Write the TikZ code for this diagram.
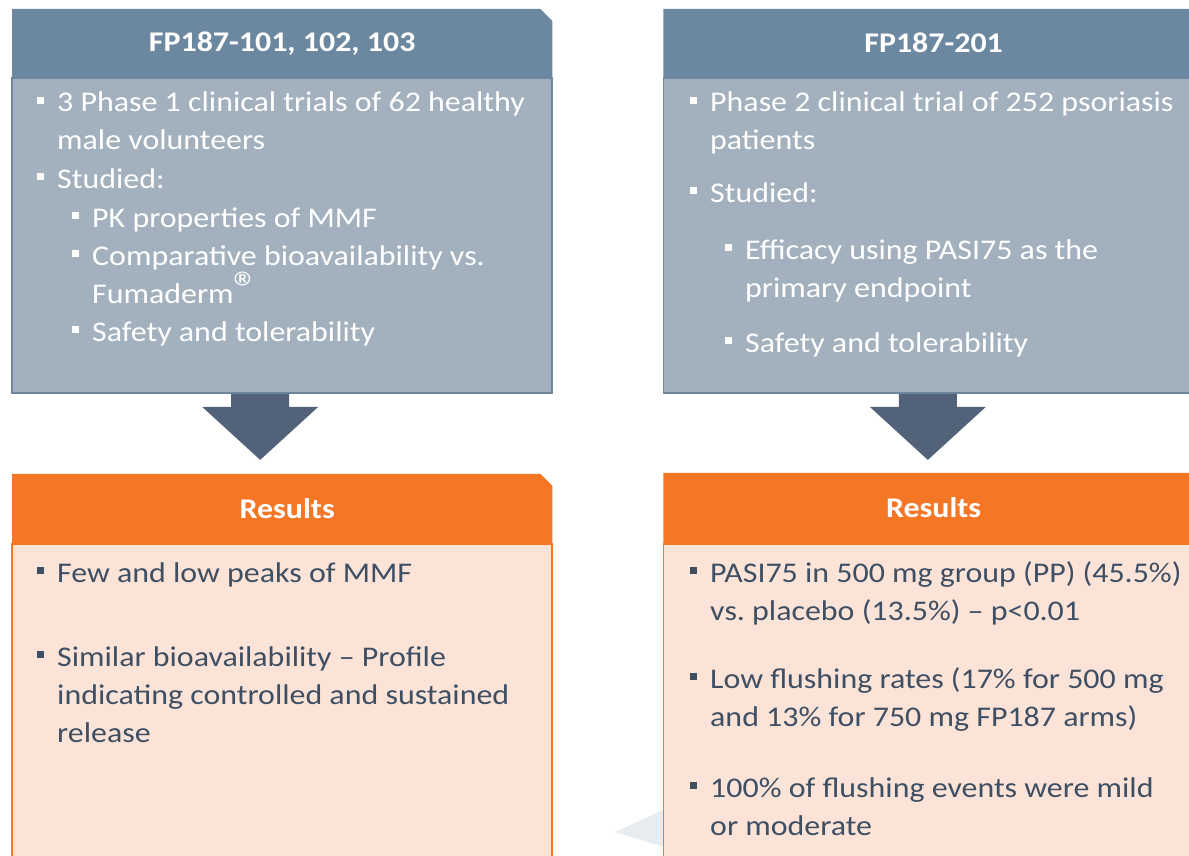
\documentclass[tikz,border=0pt]{standalone}
\usepackage{fontspec}
\setmainfont{Carlito}[FakeStretch=1.12]
\usetikzlibrary{calc,positioning,backgrounds}
\definecolor{slatehdr}{HTML}{6C88A0}
\definecolor{slatebody}{HTML}{A3B1BE}
\definecolor{slatearrow}{HTML}{526379}
\definecolor{orangehdr}{HTML}{F57726}
\definecolor{peachbody}{HTML}{FCE3D8}
\definecolor{inkdark}{HTML}{3E4F63}
\definecolor{ghostgray}{HTML}{E7ECF0}
\frenchspacing
\newcommand{\bul}{\makebox[20pt][l]{\rule[8pt]{7pt}{7pt}}}
\newcommand{\itm}[1]{\bul\parbox[t]{480pt}{#1}}
% header band with the top right corner cut off
\newcommand{\cuthead}[2]{\fill[#2] (#1.south west) -- (#1.north west)
  -- ([xshift=-12pt]#1.north east) -- ([yshift=-12pt]#1.north east)
  -- (#1.south east) -- cycle;}
% fat arrow pointing down, hanging from #1
\newcommand{\blockarrow}[1]{\fill[slatearrow] ($(#1)+(-29,0)$) -- ++(0,13)
  -- ++(-29,0) -- ($(#1)+(0,66)$) -- ($(#1)+(58,13)$) -- ++(-29,0)
  -- ($(#1)+(29,0)$) -- cycle;}
\tikzset{
  hdr/.style={ % title band of a box
    minimum width=540pt, inner sep=0pt, text=white,
    font=\fontsize{28.5}{38}\selectfont\bfseries
  },
  trialbody/.style={ % body of a trial box
    draw=slatehdr, line width=1.5pt, fill=slatebody,
    minimum width=540pt, minimum height=315pt, inner sep=0pt
  },
  resbody/.style={ % body of a results box
    draw=orangehdr, line width=1.5pt, fill=peachbody,
    minimum width=540pt, minimum height=330pt, inner sep=0pt
  },
  bitem/.style={ % one bullet point
    anchor=base west, inner sep=0pt,
    font=\fontsize{28.5}{38}\selectfont
  }
}
\begin{document}
\begin{tikzpicture}[x=1pt, y=-1pt]
  \useasboundingbox (0,0) rectangle (1189,856);
  \clip (0,0) rectangle (1189,856);

  % faint arrow half hidden behind the right results box
  \fill[ghostgray] (615,832) -- (700,793) -- (700,858) -- cycle;

  \node[hdr, minimum height=68pt, anchor=north west] (hdrA) at (12,9) {FP187-101, 102, 103};
  \node[trialbody, below=0pt of hdrA] (bodyA) {};
  \node[hdr, minimum height=68pt, right=111pt of hdrA] (hdrB) {FP187-201};
  \node[trialbody, below=0pt of hdrB] (bodyB) {};

  \node[hdr, minimum height=69pt, below=80pt of bodyA] (resA) {\hspace*{10pt}Results};
  \node[resbody, below=0pt of resA] (resbodyA) {};
  \node[hdr, minimum height=70pt, below=79pt of bodyB] (resB) {Results};
  \node[resbody, below=0pt of resB] (resbodyB) {};

  \begin{scope}[on background layer]
    \cuthead{hdrA}{slatehdr}
    \cuthead{hdrB}{slatehdr}
    \cuthead{resA}{orangehdr}
    \cuthead{resB}{orangehdr}
  \end{scope}

  \coordinate (arrA) at ([xshift=-22pt]bodyA.south);
  \coordinate (arrB) at ([xshift=265pt]bodyB.south west);
  \blockarrow{arrA}
  \blockarrow{arrB}

  % trial boxes
  \begin{scope}[text=white]
    \node[bitem] (a1) at (37,112) {\itm{3 Phase 1 clinical trials of 62 healthy\\male volunteers}};
    \node[bitem] (a2) at (37,188) {\itm{Studied:}};
    \node[bitem] (a3) at (72,227) {\itm{PK properties of MMF}};
    \node[bitem] (a4) at (72,265) {\itm{Comparative bioavailability vs.\\Fumaderm\scalebox{1.6}{\textregistered}}};
    \node[bitem] (a5) at (72,341) {\itm{Safety and tolerability}};
    \node[bitem] (b1) at (690,112) {\itm{Phase 2 clinical trial of 252 psoriasis\\patients}};
    \node[bitem] (b2) at (690,202) {\itm{Studied:}};
    \node[bitem] (b3) at (725,259) {\itm{Efficacy using PASI75 as the\\primary endpoint}};
    \node[bitem] (b4) at (725,352) {\itm{Safety and tolerability}};
  \end{scope}

  % results boxes
  \begin{scope}[text=inkdark]
    \node[bitem] (ra1) at (37,582) {\itm{Few and low peaks of MMF}};
    \node[bitem] (ra2) at (37,666) {\itm{Similar bioavailability -- Profile\\indicating controlled and sustained\\release}};
    \node[bitem] (rb1) at (690,582) {\itm{PASI75 in 500 mg group (PP) (45.5\%)\\vs. placebo (13.5\%) -- p<0.01}};
    \node[bitem] (rb2) at (690,688) {\itm{Low flushing rates (17\% for 500 mg\\and 13\% for 750 mg FP187 arms)}};
    \node[bitem] (rb3) at (690,797) {\itm{100\% of flushing events were mild\\or moderate}};
  \end{scope}
\end{tikzpicture}
\end{document}
